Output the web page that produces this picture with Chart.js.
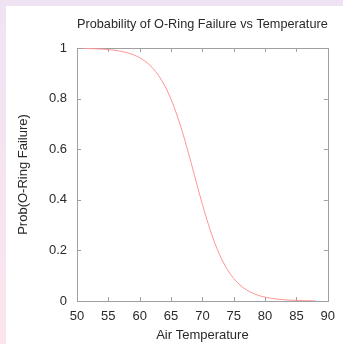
<!DOCTYPE html>
<html>
<head>
<meta charset="utf-8">
<script src="https://cdn.jsdelivr.net/npm/chart.js@4"></script>
<style>
    html, body { margin: 0; padding: 0; }
    body {
        width: 343px; height: 344px; overflow: hidden;
        background: linear-gradient(to bottom, #efe3f3, #fce5ee);
    }
    #panel { position: absolute; left: 6px; top: 6px; width: 337px; height: 338px; background: #fff; }
</style>
</head>
<body>
<div id="panel"><canvas id="chart" width="337" height="338"></canvas></div>
<script>
// values
const temperatures = [51, 52, 53, 54, 55, 56, 57, 58, 59, 60, 61, 62, 63, 64, 65, 66, 67, 68, 69, 70,
    71, 72, 73, 74, 75, 76, 77, 78, 79, 80, 81, 82, 83, 84, 85, 86, 87, 88];
const failureProb = [0.9986, 0.9979, 0.9970, 0.9957, 0.9938, 0.9910, 0.9870, 0.9813, 0.9732, 0.9616,
    0.9453, 0.9227, 0.8918, 0.8507, 0.7974, 0.7311, 0.6525, 0.5646, 0.4725, 0.3822,
    0.2994, 0.2279, 0.1694, 0.1235, 0.0887, 0.0630, 0.0444, 0.0311, 0.0217, 0.0151,
    0.0105, 0.0073, 0.0050, 0.0035, 0.0024, 0.0017, 0.0011, 0.0008];
const xTicks = [50, 55, 60, 65, 70, 75, 80, 85, 90];
const yTicks = [0, 0.2, 0.4, 0.6, 0.8, 1];
const yTickLabels = ['0', '0.2', '0.4', '0.6', '0.8', '1'];

const FONT = { family: '"Liberation Sans", Arial, sans-serif', size: 13 };
const TEXT = '#2a2a2a';
const FRAME = '#a0a0a0';

// gnuplot style frame with inward ticks on every side
const framePlugin = {
    id: 'frame',
    beforeDatasetsDraw(chart) {
        const { ctx, chartArea: a, scales } = chart;
        const len = 4;
        ctx.save();
        ctx.strokeStyle = FRAME;
        ctx.lineWidth = 1;
        ctx.beginPath();
        xTicks.forEach(v => {
            const px = Math.round(scales.x.getPixelForValue(v)) + 0.5;
            ctx.moveTo(px, a.bottom); ctx.lineTo(px, a.bottom - len);
            ctx.moveTo(px, a.top); ctx.lineTo(px, a.top + len);
        });
        yTicks.forEach(v => {
            const py = Math.round(scales.y.getPixelForValue(v)) + 0.5;
            ctx.moveTo(a.left, py); ctx.lineTo(a.left + len, py);
            ctx.moveTo(a.right, py); ctx.lineTo(a.right - len, py);
        });
        ctx.stroke();
        ctx.strokeRect(Math.round(a.left) + 0.5, Math.round(a.top) + 0.5,
            Math.round(a.right - a.left), Math.round(a.bottom - a.top));
        ctx.restore();
    }
};

new Chart(document.getElementById('chart'), {
    type: 'line',
    data: {
        datasets: [{
            data: temperatures.map((t, i) => ({ x: t, y: failureProb[i] })),
            borderColor: '#ff9494',
            borderWidth: 1,
            pointRadius: 0,
            tension: 0.3,
            fill: false
        }]
    },
    options: {
        responsive: false,
        animation: false,
        layout: { padding: { right: 14 } },
        plugins: { legend: { display: false }, tooltip: { enabled: false } },
        scales: {
            x: {
                type: 'linear', min: 50, max: 90,
                afterBuildTicks: s => { s.ticks = xTicks.map(v => ({ value: v })); },
                afterFit: s => { s.height = 43; },
                ticks: { color: TEXT, font: FONT, padding: 8, maxRotation: 0 },
                grid: { display: false, drawTicks: false },
                border: { display: false },
                title: { display: true, text: 'Air Temperature', color: TEXT, font: FONT, padding: { top: 0, bottom: 1 } }
            },
            x2: {
                type: 'linear', position: 'top', min: 50, max: 90,
                afterFit: s => { s.height = 42; },
                ticks: { display: false },
                grid: { display: false, drawTicks: false },
                border: { display: false },
                title: { display: true, text: 'Probability of O-Ring Failure vs Temperature', color: TEXT, font: FONT, padding: { top: 11, bottom: 0 } }
            },
            y: {
                min: 0, max: 1,
                afterBuildTicks: s => { s.ticks = yTicks.map(v => ({ value: v })); },
                afterFit: s => { s.width = 71; },
                ticks: { color: TEXT, font: FONT, padding: 10, callback: (v, i) => yTickLabels[i] },
                grid: { display: false, drawTicks: false },
                border: { display: false },
                title: { display: true, text: 'Prob(O-Ring Failure)', color: TEXT, font: FONT, padding: { top: 10, bottom: 0 } }
            }
        }
    },
    plugins: [framePlugin]
});
</script>
</body>
</html>
